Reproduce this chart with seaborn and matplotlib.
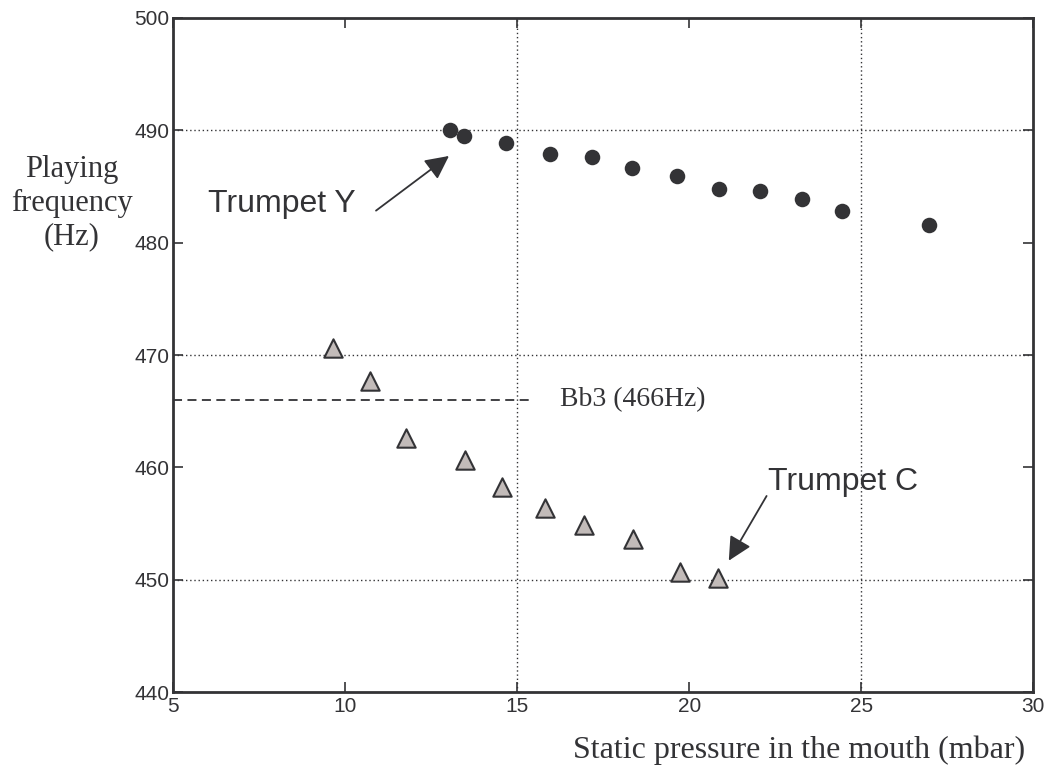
import matplotlib
matplotlib.use("Agg")
import matplotlib.pyplot as plt
import seaborn as sns
import pandas as pd

# Trumpet Y (circles)
presion_y = [13.04, 13.44, 14.66, 15.95, 17.18, 18.33, 19.65, 20.87, 22.05, 23.28, 24.44, 26.97]
freq_y = [490.0, 489.5, 488.9, 487.9, 487.6, 486.6, 485.9, 484.75, 484.6, 483.9, 482.8, 481.55]

# Trumpet C (triangles)
presion_c = [9.65, 10.71, 11.77, 13.49, 14.55, 15.82, 16.94, 18.36, 19.72, 20.83]
freq_c = [470.6, 467.7, 462.6, 460.7, 458.3, 456.4, 454.85, 453.6, 450.7, 450.2]

# Nota de referencia
nota_ref = 466
nota_texto = "Bb3 (466Hz)"

x_ticks = [5, 10, 15, 20, 25, 30]
y_ticks = [440, 450, 460, 470, 480, 490, 500]
grid_x = [15, 25]
grid_y = [450, 470, 490]

df_y = pd.DataFrame({"presion": presion_y, "freq": freq_y})
df_c = pd.DataFrame({"presion": presion_c, "freq": freq_c})

sns.set_style("ticks")
plt.rcParams["font.family"] = ["Liberation Sans", "DejaVu Sans"]

fig = plt.figure(figsize=(10.5, 7.74), dpi=100)
ax = fig.add_axes([0.165, 0.1055, 0.819, 0.8715])

oscuro = "#333336"

for gx in grid_x:
    ax.axvline(gx, color=oscuro, lw=1.0, ls=(0, (1, 2)), zorder=1)
for gy in grid_y:
    ax.axhline(gy, color=oscuro, lw=1.0, ls=(0, (1, 2)), zorder=1)

# linea de la nota Bb3
ax.plot([5, 15.5], [nota_ref, nota_ref], color=oscuro, lw=1.3, ls=(0, (5, 3)), zorder=2)
ax.text(16.23, nota_ref, nota_texto, family=["Liberation Serif"], fontsize=20,
        color=oscuro, va="center", ha="left")

sns.scatterplot(data=df_y, x="presion", y="freq", ax=ax, marker="o", s=125,
                color=oscuro, edgecolor=oscuro, linewidth=0, zorder=3)
sns.scatterplot(data=df_c, x="presion", y="freq", ax=ax, marker="^", s=175,
                color="#c2bbb9", edgecolor=oscuro, linewidth=1.5, zorder=3)

# anotaciones
ax.annotate("", xy=(13.08, 487.86), xytext=(10.83, 482.7),
            arrowprops=dict(arrowstyle="-|>", color=oscuro, lw=1.3, mutation_scale=36))
ax.text(6.01, 482.7, "Trumpet Y", fontsize=23, color=oscuro, ha="left", va="baseline")
ax.annotate("", xy=(21.11, 451.5), xytext=(22.29, 457.68),
            arrowprops=dict(arrowstyle="-|>", color=oscuro, lw=1.3, mutation_scale=36))
ax.text(22.28, 457.97, "Trumpet C", fontsize=23, color=oscuro, ha="left", va="baseline")

ax.set_xlim(5, 30)
ax.set_ylim(440, 500)
ax.set_xticks(x_ticks)
ax.set_yticks(y_ticks)
ax.tick_params(direction="in", length=7, width=1.2, top=True, right=True,
               labelsize=15, pad=3, colors=oscuro)
for s in ax.spines.values():
    s.set_linewidth(2.0)
    s.set_color(oscuro)
ax.set_xlabel("")
ax.set_ylabel("")

fig.text(72 / 1050, 1 - 203 / 774, "Playing\nfrequency\n(Hz)", family=["Liberation Serif"],
         fontsize=22, color=oscuro, ha="center", va="center", linespacing=1.2)
fig.text(1025 / 1050, 1 - 750 / 774, "Static pressure in the mouth (mbar)",
         family=["Liberation Serif"], fontsize=23, color=oscuro, ha="right", va="center")

fig.savefig("out.png", dpi=100)
